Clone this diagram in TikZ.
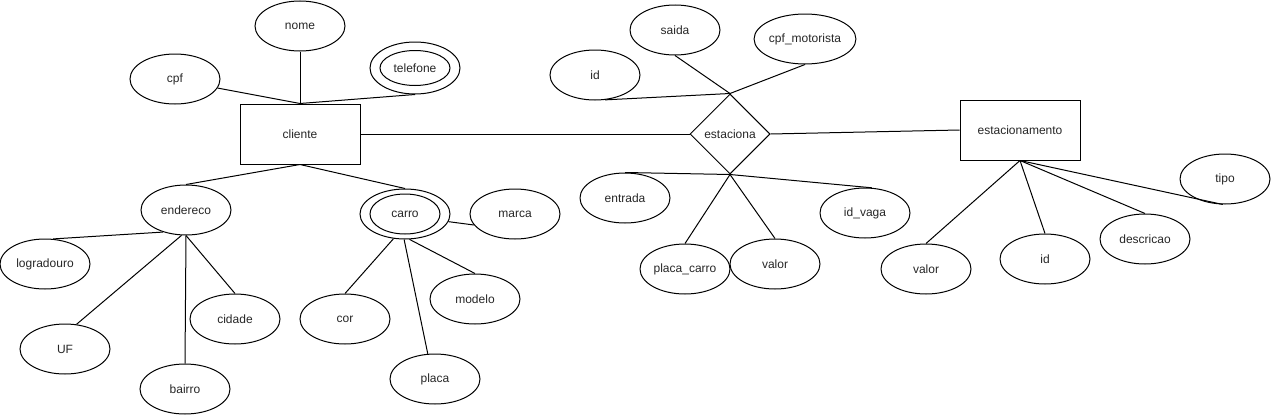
\documentclass[tikz,border=0pt]{standalone}
\usepackage{fontspec}
\setmainfont{Liberation Sans}
\usetikzlibrary{shapes.geometric}
\begin{document}
\begin{tikzpicture}[x=1pt,y=-1pt,line width=1pt,
  lbl/.style={font=\fontsize{12}{14}\selectfont, text=black!85},
  attr/.style={lbl, draw, ellipse, minimum width=90pt, minimum height=50pt, inner sep=0pt},
  innerell/.style={lbl, draw, ellipse, minimum width=70pt, minimum height=#1, inner sep=0pt},
  ent/.style={lbl, draw, rectangle, minimum width=120pt, minimum height=60pt, inner sep=0pt},
  rel/.style={lbl, draw, diamond, aspect=1, minimum size=80pt, inner sep=0pt},
  conn/.style={draw, line width=1pt}]
\useasboundingbox (0,0) rectangle (1271,415);
% entities
\node[ent] (cliente) at (300,134) {cliente};
\node[ent] (estacionamento) at (1020,130) {estacionamento};
\node[rel] (estaciona) at (730,134) {estaciona};
% cliente attributes
\node[attr] (nome) at (300,26) {nome};
\node[attr] (cpf) at (175,79) {cpf};
\node[attr, minimum height=52pt] (telefone) at (415,68) {};
\node[innerell=35pt] (telefoneIn) at (415,68) {telefone};
\node[attr] (endereco) at (186,210) {endereco};
\node[attr] (carro) at (405,214) {};
\node[innerell=40pt] (carroIn) at (405,214) {carro};
\node[attr] (marca) at (515,214) {marca};
\node[attr] (logradouro) at (45,264) {logradouro};
\node[attr] (uf) at (65,349) {UF};
\node[attr] (bairro) at (185,389) {bairro};
\node[attr] (cidade) at (235,319) {cidade};
\node[attr] (cor) at (345,319) {cor};
\node[attr] (placa) at (435,379) {placa};
\node[attr] (modelo) at (475,299) {modelo};
% estaciona attributes
\node[attr] (saida) at (675,30) {saida};
\node[attr] (cpfm) at (805,39) {cpf\_motorista};
\node[attr] (idA) at (595,75) {id};
\node[attr] (entrada) at (625,198) {entrada};
\node[attr] (placacarro) at (685,269) {placa\_carro};
\node[attr] (valorA) at (775,264) {valor};
\node[attr] (idvaga) at (865,213) {id\_vaga};
% estacionamento attributes
\node[attr] (valorB) at (926,269) {valor};
\node[attr] (idB) at (1045,259) {id};
\node[attr] (descricao) at (1145,239) {descricao};
\node[attr] (tipo) at (1225,179) {tipo};
% connectors
\draw[conn] (cpf.-12) -- (cliente.north);
\draw[conn] (nome.south) -- (cliente.north);
\draw[conn] (telefone.south) -- (cliente.north);
\draw[conn] (cliente.east) -- (estaciona.west);
\draw[conn] (cliente.south) -- (endereco.north);
\draw[conn] (cliente.south) -- (carro.north);
\draw[conn] (endereco.224) -- (logradouro.72);
\draw[conn] (endereco.260) -- (uf.65);
\draw[conn] (endereco.south) -- (bairro.north);
\draw[conn] (endereco.south) -- (cidade.north);
\draw[conn] (carro.245) -- (cor.north);
\draw[conn] (carro.268) -- (placa.106);
\draw[conn] (carro.280) -- (modelo.north);
\draw[conn] (carro.-10) -- (marca.195);
\draw[conn] (idA.-68) -- (estaciona.north);
\draw[conn] (saida.south) -- (estaciona.north);
\draw[conn] (cpfm.south) -- (estaciona.north);
\draw[conn] (estaciona.east) -- (estacionamento.west);
\draw[conn] (estaciona.south) -- (entrada.north);
\draw[conn] (estaciona.south) -- (placacarro.north);
\draw[conn] (estaciona.south) -- (valorA.north);
\draw[conn] (estaciona.south) -- (idvaga.75);
\draw[conn] (estacionamento.south) -- (valorB.north);
\draw[conn] (estacionamento.south) -- (idB.north);
\draw[conn] (estacionamento.south) -- (descricao.north);
\draw[conn] (estacionamento.south) -- (tipo.265);
\end{tikzpicture}
\end{document}
